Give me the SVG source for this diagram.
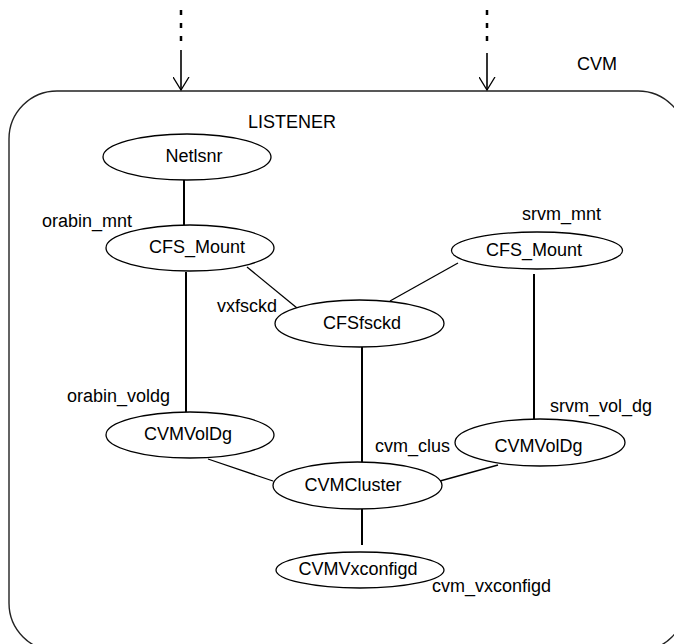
<svg xmlns="http://www.w3.org/2000/svg" width="674" height="644" viewBox="0 0 674 644">
<style>
text{font-family:"Liberation Sans",Arial,sans-serif;font-size:18px;fill:#000}
.n ellipse{fill:#fff;stroke:#000;stroke-width:1.3}
.n text{text-anchor:middle}
.v{stroke:#000;stroke-width:2;fill:none}
.d{stroke:#000;stroke-width:1.3;fill:none}
</style>
<defs>
<marker id="ah" markerWidth="20" markerHeight="20" refX="8" refY="13" markerUnits="userSpaceOnUse" orient="0">
<path d="M0,0 L8,13 L16,0" fill="none" stroke="#000" stroke-width="1.3"/>
</marker>
</defs>
<rect width="674" height="644" fill="#fff"/>
<g id="cvm">
<rect x="9" y="91" width="677" height="560" rx="48" ry="48" fill="none" stroke="#222" stroke-width="1.4"/>
<text x="577" y="70">CVM</text>
<text x="248" y="128">LISTENER</text>
</g>
<g id="incoming">
<line x1="181" y1="10" x2="181" y2="48" stroke="#000" stroke-width="2.5" stroke-dasharray="5 8"/>
<line x1="181" y1="50" x2="181" y2="90" stroke="#000" stroke-width="1.6" marker-end="url(#ah)"/>
<line x1="487" y1="10" x2="487" y2="48" stroke="#000" stroke-width="2.5" stroke-dasharray="5 8"/>
<line x1="487" y1="53" x2="487" y2="90" stroke="#000" stroke-width="1.6" marker-end="url(#ah)"/>
</g>
<g id="connectors">
<line class="v" x1="184" y1="180" x2="184" y2="225"/>
<line class="v" x1="186" y1="272" x2="186" y2="412"/>
<line class="d" x1="247" y1="267" x2="297" y2="308"/>
<line class="d" x1="390" y1="301" x2="458" y2="263"/>
<line class="v" x1="534" y1="274" x2="534" y2="419"/>
<line class="v" x1="362" y1="347" x2="362" y2="462"/>
<line class="d" x1="208" y1="459" x2="273" y2="481"/>
<line class="d" x1="440" y1="481" x2="498" y2="465"/>
<line class="v" x1="362" y1="509" x2="362" y2="545"/>
</g>
<g id="netlsnr" class="n">
<ellipse cx="187" cy="157" rx="84" ry="23"/>
<text x="194" y="162">Netlsnr</text>
</g>
<g id="orabin_mnt" class="n">
<ellipse cx="190" cy="248" rx="84" ry="23"/>
<text x="197" y="253">CFS_Mount</text>
</g>
<text x="42" y="227">orabin_mnt</text>
<g id="srvm_mnt" class="n">
<ellipse cx="537" cy="250.5" rx="85.5" ry="18.5"/>
<text x="534" y="256">CFS_Mount</text>
</g>
<text x="522" y="220">srvm_mnt</text>
<g id="vxfsckd" class="n">
<ellipse cx="359.5" cy="323.5" rx="84.5" ry="23.5"/>
<text x="362" y="329">CFSfsckd</text>
</g>
<text x="217" y="312">vxfsckd</text>
<g id="orabin_voldg" class="n">
<ellipse cx="190" cy="435" rx="84" ry="23"/>
<text x="188" y="440">CVMVolDg</text>
</g>
<text x="67" y="402">orabin_voldg</text>
<g id="srvm_vol_dg" class="n">
<ellipse cx="540" cy="442.5" rx="85" ry="23.5"/>
<text x="538.5" y="452">CVMVolDg</text>
</g>
<text x="550" y="412">srvm_vol_dg</text>
<g id="cvm_clus" class="n">
<ellipse cx="357.5" cy="485.5" rx="84.5" ry="23.5"/>
<text x="353" y="491">CVMCluster</text>
</g>
<text x="375" y="452">cvm_clus</text>
<g id="cvm_vxconfigd" class="n">
<ellipse cx="360" cy="570" rx="84" ry="18"/>
<text x="358" y="575">CVMVxconfigd</text>
</g>
<text x="432" y="592">cvm_vxconfigd</text>
</svg>
